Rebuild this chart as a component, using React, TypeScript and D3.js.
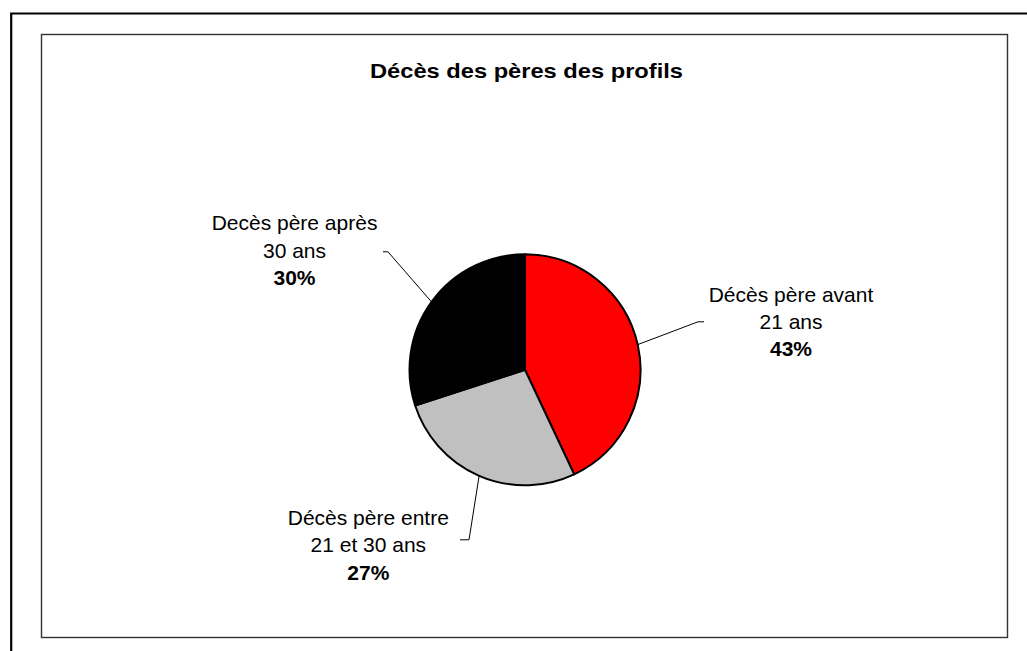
import React from "react";
import * as d3 from "d3";

const title = "Décès des pères des profils";
const categories = [
  ["Décès père avant", "21 ans"],
  ["Décès père entre", "21 et 30 ans"],
  ["Decès père après", "30 ans"],
];
const values = [43, 27, 30];
const colors = ["#FF0000", "#C0C0C0", "#000000"];

// layout (label elbow relative to pie centre, tail direction, text offset from elbow)
const labelLayout = [
  { ex: 173, ey: -48, tail: 6, tx: 93, ty: -20.3 },
  { ex: -56, ey: 170, tail: -9, tx: -100.7, ty: -14.7 },
  { ex: -137, ey: -118, tail: -5, tx: -93.5, ty: -21.4 },
];

export default function App() {
  const W = 1027;
  const H = 651;
  const cx = 525;
  const cy = 369.8;
  const r = 115.5;
  const lineH = 27.3;

  const pie = d3
    .pie<number>()
    .sort(null)
    .value((d) => d)
    .startAngle(0)
    .endAngle(2 * Math.PI);
  const arcs = pie(values);
  const arc = d3.arc<d3.PieArcDatum<number>>().innerRadius(0).outerRadius(r);
  const total = d3.sum(values);
  const fmt = d3.format(".0%");

  const font = "Arial, 'Liberation Sans', sans-serif";

  return (
    <svg
      width={W}
      height={H}
      style={{ position: "absolute", left: 0, top: 0, display: "block" }}
    >
      <rect x={0} y={0} width={W} height={H} fill="#fff" />
      <path d="M11.2,651 V13.5 H1027" fill="none" stroke="#000" strokeWidth={2.2} />
      <rect x={41.5} y={34.5} width={966} height={603} fill="#fff" stroke="#333" strokeWidth={1.4} />
      <text
        x={526.5}
        y={77.5}
        textAnchor="middle"
        fontFamily={font}
        fontWeight="bold"
        fontSize={21}
        textLength={313}
        lengthAdjust="spacingAndGlyphs"
        fill="#000"
      >
        {title}
      </text>
      <g transform={`translate(${cx},${cy})`}>
        {arcs.map((a, i) => (
          <path key={i} d={arc(a) || ""} fill={colors[i]} stroke="#000" strokeWidth={2} strokeLinejoin="round" />
        ))}
        {arcs.map((a, i) => {
          const mid = (a.startAngle + a.endAngle) / 2;
          const px = r * Math.sin(mid);
          const py = -r * Math.cos(mid);
          const L = labelLayout[i];
          const lines = categories[i];
          return (
            <g key={"l" + i}>
              <polyline
                points={`${px},${py} ${L.ex},${L.ey} ${L.ex + L.tail},${L.ey}`}
                fill="none"
                stroke="#000"
                strokeWidth={1}
              />
              <text
                textAnchor="middle"
                fontFamily={font}
                fontSize={21}
                fill="#000"
              >
                {lines.map((t, j) => (
                  <tspan key={j} x={L.ex + L.tx} y={L.ey + L.ty + j * lineH}>
                    {t}
                  </tspan>
                ))}
                <tspan
                  x={L.ex + L.tx}
                  y={L.ey + L.ty + lines.length * lineH}
                  fontWeight="bold"
                >
                  {fmt(values[i] / total)}
                </tspan>
              </text>
            </g>
          );
        })}
      </g>
    </svg>
  );
}
